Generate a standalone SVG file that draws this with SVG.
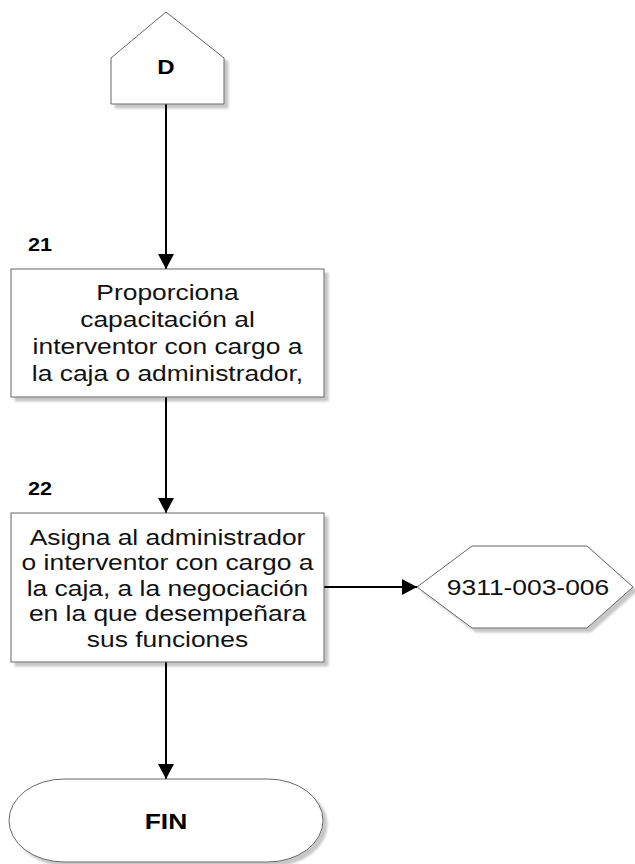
<svg xmlns="http://www.w3.org/2000/svg" width="635" height="864" viewBox="0 0 635 864">
<style>
.shape{fill:#ffffff;stroke:#666666;stroke-width:1;filter:url(#shadow)}
.conn{fill:none;stroke:#000000;stroke-width:2}
.t{font-family:"Liberation Sans",Arial,sans-serif;font-size:22px;fill:#111111;text-anchor:middle}
.b{font-family:"Liberation Sans",Arial,sans-serif;font-weight:bold;fill:#000000}
</style>
<defs>
<filter id="shadow" x="-10%" y="-10%" width="125%" height="130%">
<feDropShadow dx="4" dy="4" stdDeviation="1.2" flood-color="#000000" flood-opacity="0.22"/>
</filter>
<marker id="arr" markerUnits="userSpaceOnUse" markerWidth="16" markerHeight="16" refX="15" refY="8" orient="auto">
<path d="M0,0 L15,8 L0,16 z" fill="#000000"/>
</marker>
</defs>
<g id="connectors">
<line class="conn" x1="166" y1="104" x2="166" y2="269" marker-end="url(#arr)"/>
<line class="conn" x1="166" y1="397" x2="166" y2="513" marker-end="url(#arr)"/>
<line class="conn" x1="166" y1="662" x2="166" y2="779" marker-end="url(#arr)"/>
<line class="conn" x1="324" y1="587" x2="417" y2="587" marker-end="url(#arr)"/>
</g>
<g id="node-D">
<polygon class="shape" points="111,58 166,12 224,58 224,104 111,104"/>
<text class="b" font-size="20" text-anchor="middle" transform="translate(166 74) scale(1.2 1)" x="0" y="0">D</text>
</g>
<g id="node-21">
<text class="b" font-size="18" transform="translate(28 251) scale(1.2 1)" x="0" y="0">21</text>
<rect class="shape" x="11" y="269" width="313" height="128"/>
<g transform="translate(167.5 0) scale(1.2 1)">
<text class="t" x="0" y="300">Proporciona</text>
<text class="t" x="0" y="327">capacitación al</text>
<text class="t" x="0" y="354">interventor con cargo a</text>
<text class="t" x="0" y="381">la caja o administrador,</text>
</g>
</g>
<g id="node-22">
<text class="b" font-size="18" transform="translate(28 495) scale(1.2 1)" x="0" y="0">22</text>
<rect class="shape" x="11" y="513" width="313" height="149"/>
<g transform="translate(167.5 0) scale(1.2 1)">
<text class="t" x="0" y="545">Asigna al administrador</text>
<text class="t" x="0" y="570.5">o interventor con cargo a</text>
<text class="t" x="0" y="596">la caja, a la negociación</text>
<text class="t" x="0" y="621.5">en la que desempeñara</text>
<text class="t" x="0" y="647">sus funciones</text>
</g>
</g>
<g id="node-ref">
<polygon class="shape" points="417,587 472,546 587,546 633,587 587,628 472,628"/>
<text class="t" transform="translate(528 595) scale(1.2 1)" x="0" y="0">9311-003-006</text>
</g>
<g id="node-FIN">
<rect class="shape" x="9" y="779" width="314" height="83" rx="55" ry="41.5"/>
<text class="b" font-size="22" text-anchor="middle" transform="translate(166 829) scale(1.2 1)" x="0" y="0">FIN</text>
</g>
</svg>
